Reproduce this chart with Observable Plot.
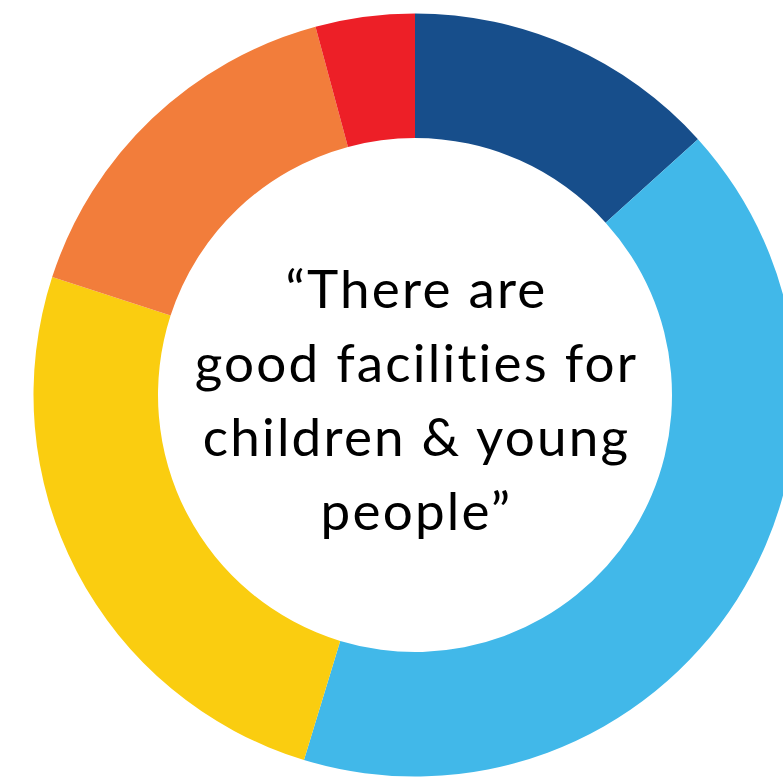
<!DOCTYPE html>
<html><head><meta charset="utf-8">
<script src="https://cdn.jsdelivr.net/npm/d3@7"></script>
<script src="https://cdn.jsdelivr.net/npm/@observablehq/plot@0.6"></script>
<style>
html,body{margin:0;padding:0;background:#fff;overflow:hidden}
svg{display:block}
svg text{letter-spacing:2.2px;font-variant-ligatures:none;font-feature-settings:"liga" 0}
</style>
</head><body><div id="chart"></div>
<script>
// Response shares (percent), clockwise from 12 o'clock
const categories = ["Strongly agree", "Agree", "Neither agree nor disagree", "Disagree", "Strongly disagree"];
const values = [13.3, 41.4, 25.3, 15.8, 4.2];
const palette = ["#174e8b", "#41b8e9", "#facd10", "#f27d3b", "#ed1f27"];
const centerLines = ["\u201CThere are", "good facilities for", "children & young", "people\u201D"];

const slices = categories.map((c, i) => ({category: c, value: values[i], color: palette[i]}));
const pie = d3.pie().sort(null).value(d => d.value);

function donut(index, scales) {
  const cx = scales.x(0), cy = scales.y(0);
  const outer = scales.x(381.5) - cx;
  const inner = scales.x(257) - cx;
  const arc = d3.arc().innerRadius(inner).outerRadius(outer);
  const g = d3.create("svg:g").attr("transform", `translate(${cx},${cy})`);
  g.selectAll("path").data(pie(slices)).join("path")
    .attr("d", arc)
    .attr("fill", d => d.data.color);
  return g.node();
}

const chart = Plot.plot({
  width: 783,
  height: 782,
  margin: 0,
  x: {domain: [-415, 368], axis: null},
  y: {domain: [-387, 395], axis: null},
  style: {background: "white"},
  marks: [
    donut,
    Plot.text([centerLines.join("\n")], {
      x: 0, y: 0, text: d => d,
      fontSize: 53, lineHeight: 74 / 53,
      fontFamily: "Lato", fill: "black",
      textAnchor: "middle", lineAnchor: "middle", dy: 0, dx: 1
    })
  ]
});
document.getElementById("chart").append(chart);
</script>
</body></html>
